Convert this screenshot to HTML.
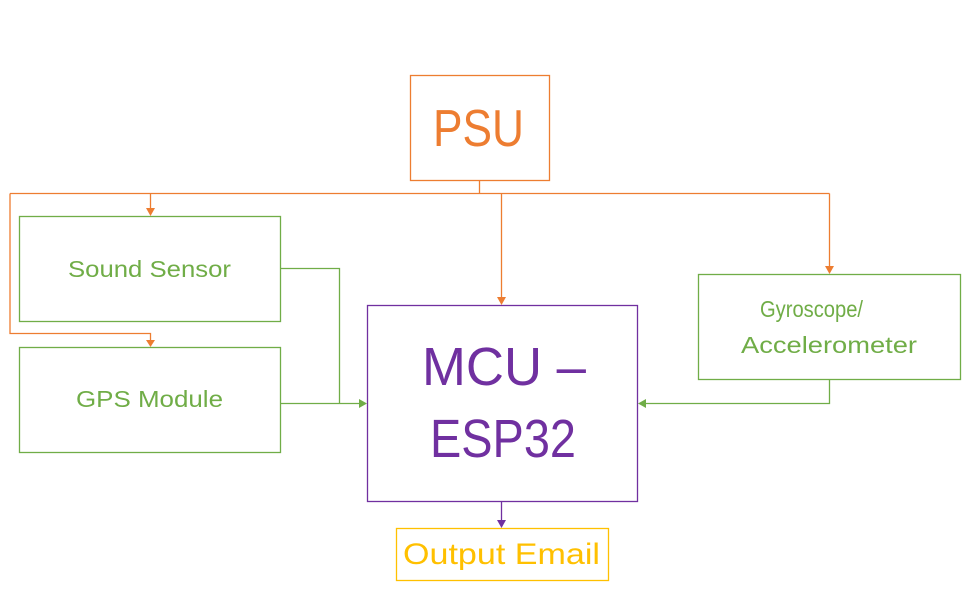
<!DOCTYPE html>
<html><head><meta charset="utf-8"><style>html,body{margin:0;padding:0;background:#fff}svg{display:block}</style></head>
<body>
<svg width="971" height="602" viewBox="0 0 971 602" xmlns="http://www.w3.org/2000/svg" font-family="Liberation Sans, sans-serif">
<defs>
<marker id="ao" markerWidth="10" markerHeight="10" refX="5" refY="8" orient="auto-start-reverse" markerUnits="userSpaceOnUse" viewBox="0 0 10 10"><path d="M0,0 L10,0 L5,8 z" fill="#ED7D31" transform="translate(0,0)"/></marker>
</defs>
<g fill="none" stroke-width="1.3">
<!-- boxes -->
<rect x="410.5" y="75.5" width="139" height="105" stroke="#ED7D31"/>
<rect x="19.5" y="216.5" width="261" height="105" stroke="#70AD47"/>
<rect x="19.5" y="347.5" width="261" height="105" stroke="#70AD47"/>
<rect x="367.5" y="305.5" width="270" height="196" stroke="#7030A0"/>
<rect x="698.5" y="274.5" width="262" height="105" stroke="#70AD47"/>
<rect x="396.5" y="528.5" width="212" height="52" stroke="#FFC000"/>
<!-- orange lines -->
<g stroke="#ED7D31">
<path d="M479.5 180 V193.5 M10 193.5 H829.5 M10 193.5 V333.5 H150.5 V341"/>
<path d="M150.5 193.5 V209 M501.5 193.5 V298 M829.5 193.5 V267"/>
</g>
<!-- green -->
<g stroke="#70AD47">
<path d="M280 268.5 H339.5 V403.5 M280 403.5 H360 M829.5 379 V403.5 H644"/>
</g>
<path d="M501.5 501 V521" stroke="#7030A0"/>
</g>
<!-- arrowheads -->
<g fill="#ED7D31">
<path d="M146 208 L155 208 L150.5 216 z"/>
<path d="M146 340 L155 340 L150.5 347 z"/>
<path d="M497 297 L506 297 L501.5 305 z"/>
<path d="M825 266 L834 266 L829.5 274 z"/>
</g>
<g fill="#70AD47">
<path d="M359 399 L359 408 L367 403.5 z"/>
<path d="M646 399 L646 408 L638 403.5 z"/>
</g>
<path d="M497 520 L506 520 L501.5 528 z" fill="#7030A0"/>
<!-- text -->
<text x="478.5" y="146" font-size="52" fill="#ED7D31" text-anchor="middle" textLength="91" lengthAdjust="spacingAndGlyphs">PSU</text>
<text x="149.5" y="277" font-size="23" fill="#70AD47" text-anchor="middle" textLength="163" lengthAdjust="spacingAndGlyphs">Sound Sensor</text>
<text x="149.5" y="407" font-size="23" fill="#70AD47" text-anchor="middle" textLength="147" lengthAdjust="spacingAndGlyphs">GPS Module</text>
<text x="811.5" y="317" font-size="23" fill="#70AD47" text-anchor="middle" textLength="103" lengthAdjust="spacingAndGlyphs">Gyroscope/</text>
<text x="829" y="353" font-size="23" fill="#70AD47" text-anchor="middle" textLength="176" lengthAdjust="spacingAndGlyphs">Accelerometer</text>
<text x="504" y="385" font-size="54" fill="#7030A0" text-anchor="middle" textLength="164" lengthAdjust="spacingAndGlyphs">MCU –</text>
<text x="503" y="457" font-size="54" fill="#7030A0" text-anchor="middle" textLength="146" lengthAdjust="spacingAndGlyphs">ESP32</text>
<text x="501.5" y="564" font-size="30" fill="#FFC000" text-anchor="middle" textLength="197" lengthAdjust="spacingAndGlyphs">Output Email</text>
</svg>
</body></html>
